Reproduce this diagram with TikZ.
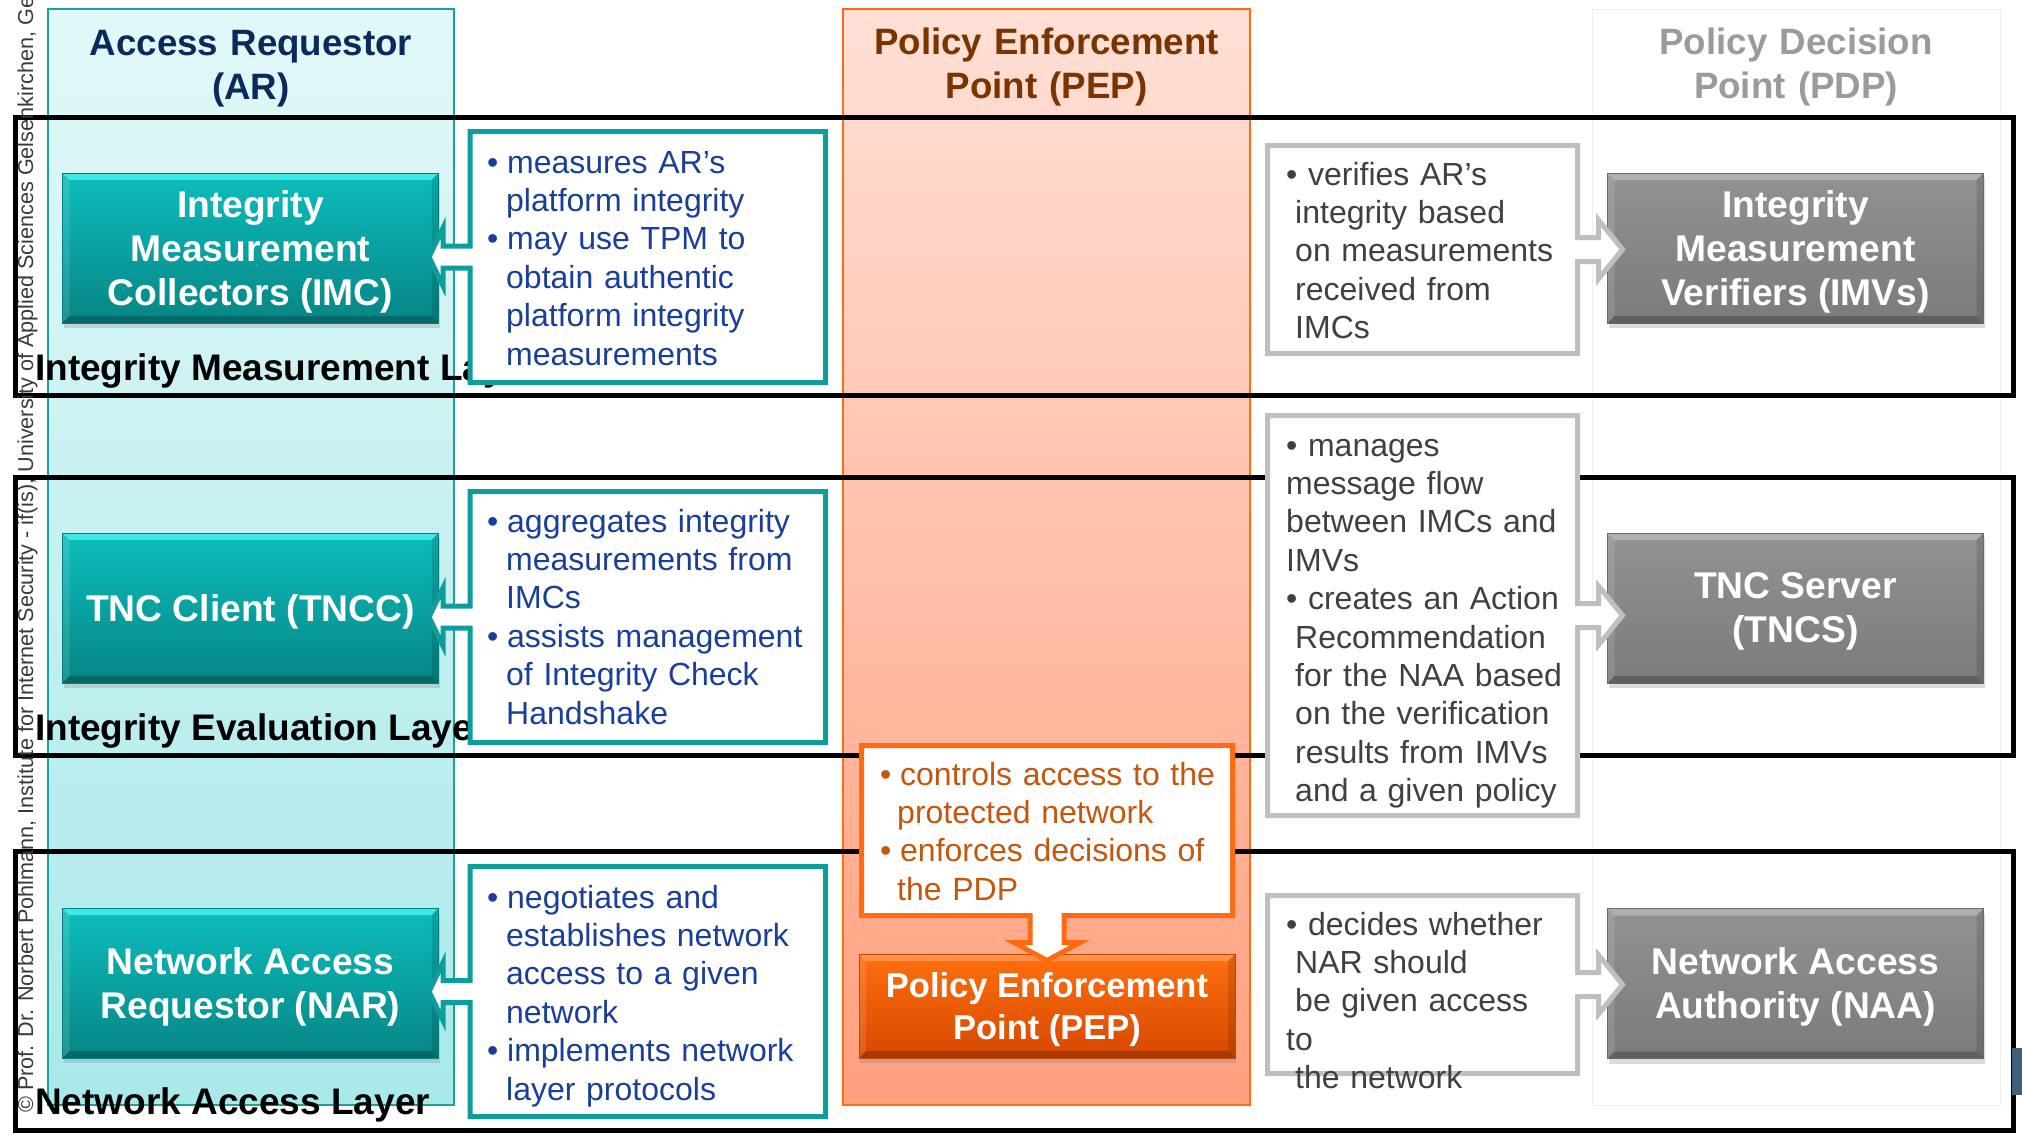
\documentclass[tikz,border=0pt]{standalone}
\usepackage{fontspec}
\setmainfont{Liberation Sans}
\usetikzlibrary{shadows}
\definecolor{arTop}{HTML}{E2F8F8}
\definecolor{arBot}{HTML}{A9E9E9}
\definecolor{arEdge}{HTML}{1E9E9E}
\definecolor{pepTop}{HTML}{FFE0D6}
\definecolor{pepBot}{HTML}{FFA07E}
\definecolor{pepEdge}{HTML}{FF6A13}
\definecolor{pdpEdge}{HTML}{EFEFEF}
\definecolor{tealA}{HTML}{0DBDBD}
\definecolor{tealB}{HTML}{078585}
\definecolor{tealE}{HTML}{067E7E}
\definecolor{tealHi}{HTML}{45F0F0}
\definecolor{grayA}{HTML}{929292}
\definecolor{grayB}{HTML}{7B7B7B}
\definecolor{grayE}{HTML}{6A6A6A}
\definecolor{grayHi}{HTML}{B5B5B5}
\definecolor{orA}{HTML}{FF6F0F}
\definecolor{orB}{HTML}{D64800}
\definecolor{orE}{HTML}{C84400}
\definecolor{orHi}{HTML}{FF9A50}
\definecolor{tealLine}{HTML}{0E9C9C}
\definecolor{grayLine}{HTML}{BFBFBF}
\definecolor{navyTxt}{HTML}{0B2A5B}
\definecolor{blueTxt}{HTML}{1A3F9A}
\definecolor{brownTxt}{HTML}{7A3400}
\definecolor{pdpTxt}{HTML}{9B9B9B}
\definecolor{orTxt}{HTML}{C4560E}
\definecolor{grayTxt}{HTML}{404040}
\definecolor{copyTxt}{HTML}{3A3A3A}
\definecolor{slateBox}{HTML}{3F5F7A}
\newcommand\tbul{\makebox[17pt][l]{\hspace*{-3pt}•}}
\newcommand\tind{\hspace*{16pt}}
\newcommand\pbul{\makebox[18pt][l]{\hspace*{-2pt}•}}
\newcommand\pind{\hspace*{15pt}}
\newcommand\gind{\hspace*{9pt}}
\newcommand\lcallout[4]{\draw[tealcall] (#1,#2) -- (#3,#2) -- (#3,#4) -- (#1,#4) -- (#1,{(#2+#4)/2+11}) -- ({#1-27},{(#2+#4)/2+11}) -- ({#1-27},{(#2+#4)/2+29}) -- ({#1-41},{(#2+#4)/2}) -- ({#1-27},{(#2+#4)/2-29}) -- ({#1-27},{(#2+#4)/2-11}) -- (#1,{(#2+#4)/2-11}) -- cycle;}
\newcommand\rcallout[4]{\draw[graycall] (#1,#2) -- (#3,#2) -- (#3,{(#2+#4)/2-12}) -- ({#3+21},{(#2+#4)/2-12}) -- ({#3+21},{(#2+#4)/2-29.5}) -- ({#3+45},{(#2+#4)/2}) -- ({#3+21},{(#2+#4)/2+29.5}) -- ({#3+21},{(#2+#4)/2+12}) -- (#3,{(#2+#4)/2+12}) -- (#3,#4) -- (#1,#4) -- cycle;}
\newcommand\dcallout[4]{\draw[pepcall] (#1,#2) -- (#3,#2) -- (#3,#4) -- ({(#1+#3)/2+17},#4) -- ({(#1+#3)/2+17},{#4+27}) -- ({(#1+#3)/2+33},{#4+27}) -- ({(#1+#3)/2},{#4+45}) -- ({(#1+#3)/2-33},{#4+27}) -- ({(#1+#3)/2-17},{#4+27}) -- ({(#1+#3)/2-17},#4) -- (#1,#4) -- cycle;}
\begin{document}
\begin{tikzpicture}[x=1pt,y=-1pt,
  layer/.style={draw=black, line width=5pt},
  layerlbl/.style={anchor=base west, inner sep=0, font=\bfseries\fontsize{37}{43}\selectfont, text=black},
  coltitle/.style={anchor=base, inner sep=0, text width=420pt, align=center, font=\bfseries\fontsize{36.7}{44.5}\selectfont},
  bevel/.style={path picture={
    \fill[#1, opacity=0.85] (path picture bounding box.north west) -- (path picture bounding box.north east) -- ([shift={(-7pt,-7pt)}]path picture bounding box.north east) -- ([shift={(7pt,-7pt)}]path picture bounding box.north west) -- cycle;
    \fill[white, opacity=0.12] (path picture bounding box.north west) -- ([shift={(7pt,-7pt)}]path picture bounding box.north west) -- ([shift={(7pt,7pt)}]path picture bounding box.south west) -- (path picture bounding box.south west) -- cycle;
    \fill[black, opacity=0.12] (path picture bounding box.north east) -- ([shift={(-7pt,-7pt)}]path picture bounding box.north east) -- ([shift={(-7pt,7pt)}]path picture bounding box.south east) -- (path picture bounding box.south east) -- cycle;
    \fill[black, opacity=0.22] (path picture bounding box.south west) -- ([shift={(7pt,7pt)}]path picture bounding box.south west) -- ([shift={(-7pt,7pt)}]path picture bounding box.south east) -- (path picture bounding box.south east) -- cycle;}},
  mainbox/.style={rectangle, inner sep=0, minimum width=376pt, minimum height=150pt, text depth=-5pt, text=white, align=center, font=\bfseries\fontsize{37.2}{44}\selectfont, line width=0.8pt, drop shadow={opacity=0.28, shadow xshift=1pt, shadow yshift=-5pt}},
  tealbox/.style={mainbox, top color=tealA, bottom color=tealB, draw=tealE, bevel=tealHi},
  graybox/.style={mainbox, top color=grayA, bottom color=grayB, draw=grayE, bevel=grayHi},
  pepbox/.style={mainbox, minimum height=104pt, font=\bfseries\fontsize{34.5}{42.5}\selectfont, top color=orA, bottom color=orB, draw=orE, bevel=orHi},
  tealcall/.style={draw=tealLine, fill=white, line width=5pt, line join=miter},
  graycall/.style={draw=grayLine, fill=white, line width=5pt, line join=miter},
  pepcall/.style={draw=pepEdge, fill=white, line width=5pt, line join=miter},
  calltext/.style={anchor=base west, inner sep=0, text width=350pt, align=left, font=\fontsize{32}{38.4}\selectfont},
  bluetext/.style={calltext, text=blueTxt},
  graytext/.style={calltext, text=grayTxt},
  orangetext/.style={calltext, text=orTxt},
]
\useasboundingbox (0,0) rectangle (2022,1136);
\clip (0,0) rectangle (2022,1136);
\fill[white] (0,0) rectangle (2022,1136);

% columns
\draw[arEdge, line width=2.5pt, top color=arTop, bottom color=arBot] (48,9) rectangle (454,1105);
\draw[pepEdge, line width=2.5pt, top color=pepTop, bottom color=pepBot] (843,9) rectangle (1250,1105);
\draw[pdpEdge, line width=1pt, fill=white] (1592,9) rectangle (2000,1105);

% column titles
\node[coltitle, text=navyTxt] (artitle) at (251,55) {Access Requestor\\(AR)};
\node[coltitle, text=brownTxt] (peptitle) at (1046.5,54) {Policy Enforcement\\Point (PEP)};
\node[coltitle, text=pdpTxt] (pdptitle) at (1796,54) {Policy Decision\\Point (PDP)};

% layers
\draw[layer] (15.5,117.5) rectangle (2013.5,395.5);
\draw[layer] (15.5,477.5) rectangle (2013.5,755.5);
\draw[layer] (15.5,851.5) rectangle (2013.5,1130.5);
\node[layerlbl] (lay1) at (35,380) {Integrity Measurement Layer};
\node[layerlbl] (lay2) at (35,740) {Integrity Evaluation Layer};
\node[layerlbl] (lay3) at (35,1114) {Network Access Layer};

% main boxes
\node[tealbox] (imc) at (250.5,248) {Integrity\\Measurement\\Collectors (IMC)};
\node[tealbox] (tncc) at (250.5,608) {TNC Client (TNCC)};
\node[tealbox] (nar) at (250.5,983) {Network Access\\Requestor (NAR)};
\node[graybox] (imv) at (1795.5,248) {Integrity\\Measurement\\Verifiers (IMVs)};
\node[graybox] (tncs) at (1795.5,608) {TNC Server\\(TNCS)};
\node[graybox] (naa) at (1795.5,983.5) {Network Access\\Authority (NAA)};
\node[pepbox] (pep) at (1047,1006) {Policy Enforcement\\Point (PEP)};

% AR callouts
\lcallout{470}{131.5}{825.5}{382.5}
\lcallout{470}{491.5}{825.5}{742.5}
\lcallout{470}{866.5}{825.5}{1116.5}
\node[bluetext] (imcnote) at (490,173) {\tbul measures AR’s\\\tind platform integrity\\\tbul may use TPM to\\\tind obtain authentic\\\tind platform integrity\\\tind measurements};
\node[bluetext] (tnccnote) at (490,532) {\tbul aggregates integrity\\\tind measurements from\\\tind IMCs\\\tbul assists management\\\tind of Integrity Check\\\tind Handshake};
\node[bluetext] (narnote) at (490,908) {\tbul negotiates and\\\tind establishes network\\\tind access to a given\\\tind network\\\tbul implements network\\\tind layer protocols};

% PEP callout
\dcallout{861.5}{745.5}{1232.5}{915.5}
\node[orangetext] (pepnote) at (882,785) {\pbul controls access to the\\\pind protected network\\\pbul enforces decisions of\\\pind the PDP};

% PDP callouts
\rcallout{1267.5}{145.5}{1577.5}{353.5}
\rcallout{1267.5}{415.5}{1577.5}{815.5}
\rcallout{1267.5}{895.5}{1577.5}{1073.5}
\node[graytext] (imvnote) at (1286,185) {• verifies AR’s\\\gind integrity based\\\gind on measurements\\\gind received from\\\gind IMCs};
\node[graytext] (tncsnote) at (1286,456) {• manages\\message flow\\between IMCs and\\IMVs\\• creates an Action\\\gind Recommendation\\\gind for the NAA based\\\gind on the verification\\\gind results from IMVs\\\gind and a given policy};
\node[graytext] (naanote) at (1286,935) {• decides whether\\\gind NAR should\\\gind be given access\\to\\\gind the network};

% copyright and corner mark
\node[rotate=90, anchor=base west, inner sep=0, text=copyTxt, font=\fontsize{21.6}{26}\selectfont] (copyr) at (33,1113) {© Prof. Dr. Norbert Pohlmann, Institute for Internet Security - if(is), University of Applied Sciences Gelsenkirchen, Germany};
\fill[slateBox] (2012,1048) rectangle (2022,1095);
\end{tikzpicture}
\end{document}
